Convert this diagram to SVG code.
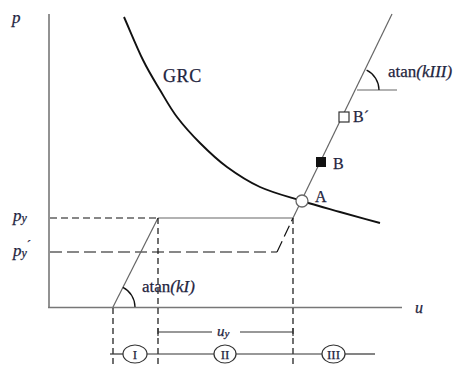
<svg xmlns="http://www.w3.org/2000/svg" width="459" height="365" viewBox="0 0 459 365">
<style>
.t{font-family:"Liberation Serif","Times New Roman",serif;fill:#1f2540;stroke:#1f2540;stroke-width:0.25}
.i{font-style:italic}
.ax{stroke:#777;stroke-width:1.6;fill:none}
.ln{stroke:#666;stroke-width:1.2;fill:none}
.arc{stroke:#111;stroke-width:1.3;fill:none}
.d1{stroke:#111;stroke-width:1.2;stroke-dasharray:7 4;fill:none}
.d2{stroke:#111;stroke-width:1.2;stroke-dasharray:12 5;fill:none}
.dv{stroke:#111;stroke-width:1.2;stroke-dasharray:6 4;fill:none}
.bl{stroke:#333;stroke-width:1.2;fill:none}
</style>
<rect width="459" height="365" fill="#fff"/>
<g id="axes">
<line class="ax" x1="49" y1="14" x2="49" y2="307.5"/>
<line class="ax" x1="48" y1="307.5" x2="402" y2="307.5"/>
<text class="t i" x="12" y="23" font-size="17">p</text>
<text class="t i" x="415" y="313" font-size="16">u</text>
</g>
<g id="connectors">
<line class="d1" x1="50" y1="218" x2="158" y2="218"/>
<line class="d2" x1="50" y1="252" x2="277" y2="252"/>
<line class="d2" x1="277" y1="252" x2="293" y2="218"/>
<line class="ln" x1="158" y1="218" x2="293" y2="218"/>
<line class="ln" x1="113" y1="307" x2="158" y2="218"/>
<line class="ln" x1="293" y1="218" x2="392" y2="14"/>
<line class="ln" x1="357" y1="90" x2="397" y2="90"/>
<path class="arc" d="M122.9,287.4 A22,22 0 0 1 135,307"/>
<path class="arc" d="M366.6,70.2 A22,22 0 0 1 379,90"/>
<line class="dv" x1="113" y1="308" x2="113" y2="365"/>
<line class="dv" x1="158" y1="218" x2="158" y2="365"/>
<line class="dv" x1="293" y1="218" x2="293" y2="365"/>
<line class="bl" x1="158" y1="332" x2="212" y2="332"/>
<line class="bl" x1="240" y1="332" x2="293" y2="332"/>
<line class="bl" x1="158" y1="328" x2="158" y2="336"/>
<line class="bl" x1="293" y1="328" x2="293" y2="336"/>
<line class="bl" x1="110" y1="354" x2="123" y2="354"/>
<line class="bl" x1="147" y1="354" x2="214" y2="354"/>
<line class="bl" x1="236" y1="354" x2="322" y2="354"/>
<line class="bl" x1="345" y1="354" x2="375" y2="354"/>
</g>
<g id="GRC">
<path d="M124,17 C130.3,31.3 137,47.8 143,60 C149,72.2 154.3,80.5 160,90 C165.7,99.5 170.3,108.2 177,117 C183.7,125.8 191.7,134.7 200,143 C208.3,151.3 217,159.7 227,167 C237,174.3 247.5,181.3 260,187 C272.5,192.7 288.7,196.8 302,201 C315.3,205.2 327,208.3 340,212 C353,215.7 366.7,219.3 380,223" fill="none" stroke="#111" stroke-width="1.9"/>
<text class="t" x="163" y="82" font-size="18" letter-spacing="0.6">GRC</text>
</g>
<g id="A">
<circle cx="302" cy="201" r="6" fill="#fff" stroke="#666" stroke-width="1.3"/>
<text class="t" x="315" y="202" font-size="16">A</text>
</g>
<g id="B">
<rect x="316" y="157" width="10" height="10" fill="#111"/>
<text class="t" x="333" y="169" font-size="16">B</text>
</g>
<g id="Bprime">
<rect x="339" y="112" width="10" height="10" fill="#fff" stroke="#333" stroke-width="1.2"/>
<text class="t" x="353" y="122" font-size="16">B´</text>
</g>
<g id="labels">
<text class="t i" x="13" y="221" font-size="17">p<tspan font-size="12" dy="1">y</tspan></text>
<text class="t i" x="13" y="256" font-size="17">p<tspan font-size="12" dy="1">y</tspan><tspan font-size="13" dy="-8" font-style="normal">´</tspan></text>
<text class="t" x="142" y="292" font-size="17">atan<tspan class="i">(kI)</tspan></text>
<text class="t" x="388" y="77" font-size="17">atan<tspan class="i">(kIII)</tspan></text>
<text class="t i" x="217" y="336" font-size="15">u<tspan font-size="11" dy="1">y</tspan></text>
</g>
<g id="I"><ellipse cx="135" cy="354" rx="12" ry="9" fill="#fff" stroke="#333" stroke-width="1.2"/><text class="t" x="135" y="359" font-size="13" text-anchor="middle">I</text></g>
<g id="II"><ellipse cx="225" cy="354" rx="11" ry="9" fill="#fff" stroke="#333" stroke-width="1.2"/><text class="t" x="225" y="359" font-size="13" text-anchor="middle">II</text></g>
<g id="III"><ellipse cx="333.5" cy="354" rx="11.5" ry="9" fill="#fff" stroke="#333" stroke-width="1.2"/><text class="t" x="333.5" y="359" font-size="13" text-anchor="middle">III</text></g>
</svg>
